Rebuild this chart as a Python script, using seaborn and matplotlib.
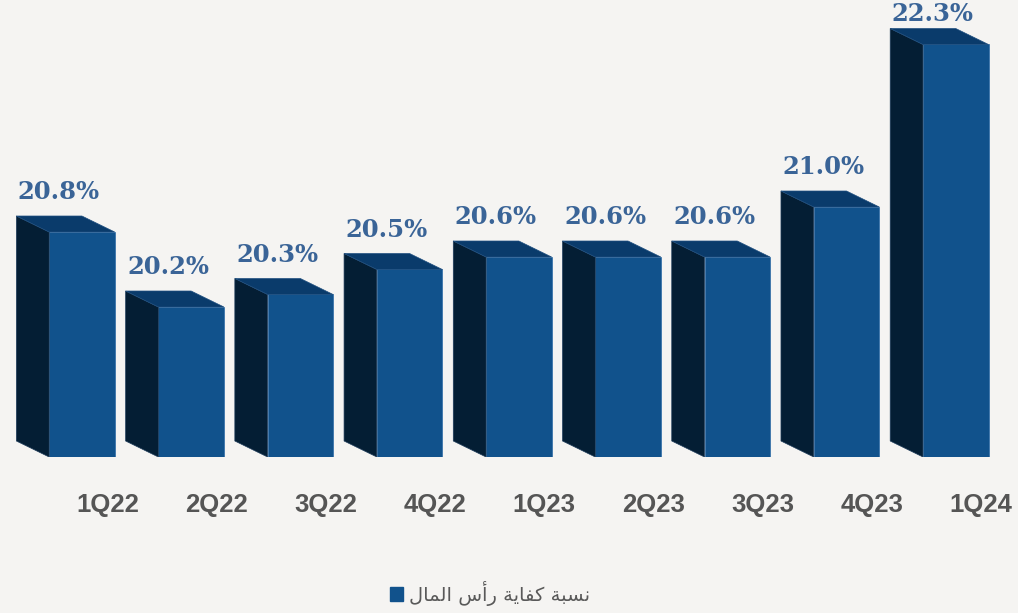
import matplotlib
matplotlib.use("Agg")
import matplotlib.pyplot as plt
from matplotlib.patches import Polygon, Patch
from matplotlib.transforms import ScaledTranslation
import seaborn as sns
import pandas as pd

# data
quarters = ['1Q22', '2Q22', '3Q22', '4Q22', '1Q23', '2Q23', '3Q23', '4Q23', '1Q24']
ratios = [20.8, 20.2, 20.3, 20.5, 20.6, 20.6, 20.6, 21.0, 22.3]
value_labels = ['20.8%', '20.2%', '20.3%', '20.5%', '20.6%', '20.6%', '20.6%', '21.0%', '22.3%']
# "نسبة كفاية رأس المال" in shaped presentation forms, visual order
legend_label = '\ufedd\ufe8e\ufee4\ufedf\ufe8d \ufeb1\ufe83\ufead \ufe94\ufef3\ufe8e\ufed4\ufedb \ufe94\ufe92\ufeb4\ufee7'

df = pd.DataFrame({'quarter': quarters, 'ratio': ratios})

bg = '#F5F4F2'
front_col = '#11528C'
side_col = '#041E34'
top_col = '#0A3B6B'

sns.set_style('white')
fig = plt.figure(figsize=(10.18, 6.13), dpi=100, facecolor=bg)
ax = fig.add_axes([0, 1 - 457 / 613, 1, 457 / 613])
ax.set_facecolor(bg)

sns.barplot(data=df, x='quarter', y='ratio', color=front_col, width=0.6,
            saturation=1, edgecolor='#2C6BA6', linewidth=0.5, ax=ax)

ax.set_xlim(-0.75, 8.57)
ax.set_ylim(19.0, 22.656)
ybase = 19.0

# depth of the fake 3d
dx = -0.30
dy = 0.128

for bar, h, lab in zip(ax.patches, ratios, value_labels):
    x0 = bar.get_x()
    x1 = x0 + bar.get_width()
    side = Polygon([(x0, ybase), (x0, h), (x0 + dx, h + dy), (x0 + dx, ybase + dy)],
                   closed=True, facecolor=side_col, edgecolor='#1d3b5a', linewidth=0.5, zorder=1)
    top = Polygon([(x0, h), (x1, h), (x1 + dx, h + dy), (x0 + dx, h + dy)],
                  closed=True, facecolor=top_col, edgecolor='#1f4f80', linewidth=0.5, zorder=1)
    ax.add_patch(side)
    ax.add_patch(top)
    cx = (x0 + x1) / 2 - 0.21
    ly = min(h + dy + 0.19, 22.546)
    ax.text(cx, ly, lab, ha='center', va='center', fontsize=17.5,
            fontweight='bold', family='DejaVu Serif', color='#3A6497')

sns.despine(ax=ax, left=True, bottom=True)
ax.set_yticks([])
ax.set_xlabel('')
ax.set_ylabel('')
ax.tick_params(axis='x', length=0, pad=26)
for t in ax.get_xticklabels():
    t.set_fontsize(18.5)
    t.set_fontweight('bold')
    t.set_family('Liberation Sans')
    t.set_color('#555555')
    t.set_transform(t.get_transform() + ScaledTranslation(0.255, 0, fig.dpi_scale_trans))

handle = Patch(facecolor=front_col, edgecolor=front_col)
fig.legend([handle], [legend_label], loc='center', bbox_to_anchor=(490 / 1018, 1 - 593 / 613),
           frameon=False, handlelength=0.7, handleheight=0.7, handletextpad=0.3,
           prop={'family': 'DejaVu Sans', 'size': 14}, labelcolor='#595959')

fig.savefig('out.png', dpi=100, facecolor=bg)
